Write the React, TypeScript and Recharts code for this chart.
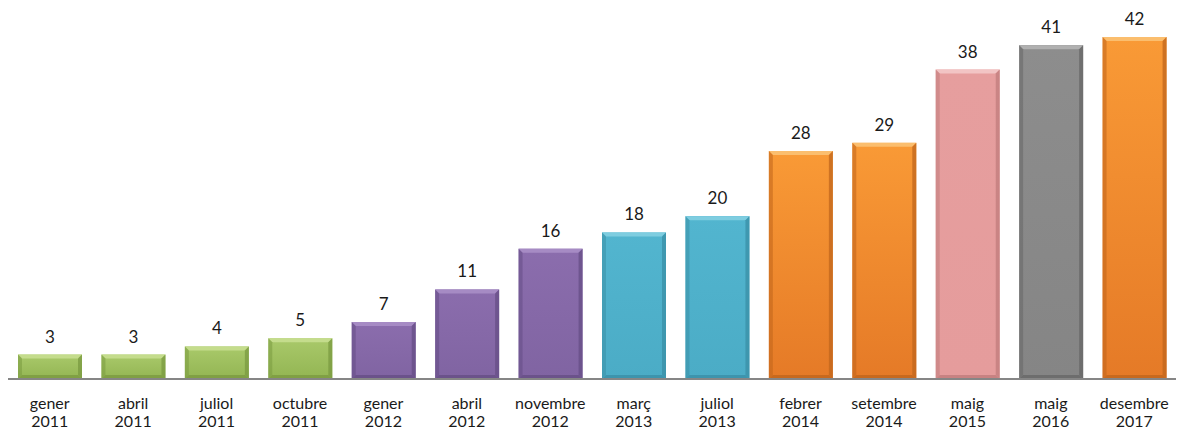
import React from 'react';
import { BarChart, Bar, XAxis, YAxis, Cell, LabelList } from 'recharts';

const months = ['gener', 'abril', 'juliol', 'octubre', 'gener', 'abril', 'novembre', 'març', 'juliol', 'febrer', 'setembre', 'maig', 'maig', 'desembre'];
const years = ['2011', '2011', '2011', '2011', '2012', '2012', '2012', '2013', '2013', '2014', '2014', '2015', '2016', '2017'];
const values = [3, 3, 4, 5, 7, 11, 16, 18, 20, 28, 29, 38, 41, 42];
const colorKeys = ['green', 'green', 'green', 'green', 'purple', 'purple', 'purple', 'cyan', 'cyan', 'orange', 'orange', 'pink', 'gray', 'orange'];

const palette: Record<string, { top: string; bottom: string; light: string; dark: string }> = {
  green: { top: '#A9C96A', bottom: '#93B553', light: '#C4DC8C', dark: '#7A9A40' },
  purple: { top: '#8B6DAD', bottom: '#8064A2', light: '#A68BC4', dark: '#654D85' },
  cyan: { top: '#52B5CF', bottom: '#4BACC6', light: '#7ECDE0', dark: '#3A8FA6' },
  orange: { top: '#F99A36', bottom: '#E57A27', light: '#FBBE6E', dark: '#C0651C' },
  pink: { top: '#E69E9E', bottom: '#E59C9C', light: '#F2C4C4', dark: '#C07C7C' },
  gray: { top: '#8D8D8D', bottom: '#858585', light: '#B0B0B0', dark: '#666666' },
};

const data = months.map((m, i) => ({ name: m + ' ' + years[i], month: m, year: years[i], value: values[i], key: colorKeys[i] }));

const FONT = "Lato, 'Open Sans', sans-serif";

const BevelBar = (props: any) => {
  const { x, y, width, height, index } = props;
  if (height <= 0) return null;
  const c = palette[data[index].key];
  const b = 4;
  const id = 'g-' + data[index].key;
  return (
    <g>
      <rect x={x} y={y} width={width} height={height} fill={`url(#${id})`} />
      <polygon points={`${x},${y} ${x + width},${y} ${x + width - b},${y + b} ${x + b},${y + b}`} fill={c.light} />
      <polygon points={`${x},${y} ${x + b},${y + b} ${x + b},${y + height - b} ${x},${y + height}`} fill={c.dark} opacity={0.55} />
      <polygon points={`${x + width},${y} ${x + width - b},${y + b} ${x + width - b},${y + height - b} ${x + width},${y + height}`} fill={c.dark} opacity={0.75} />
      <polygon points={`${x},${y + height} ${x + b},${y + height - b} ${x + width - b},${y + height - b} ${x + width},${y + height}`} fill={c.dark} opacity={0.8} />
    </g>
  );
};

const Tick = (props: any) => {
  const { x, y, payload } = props;
  const d = data[payload.index];
  return (
    <g>
      <text x={x} y={y + 22} textAnchor="middle" fontSize={16} fill="#1a1a1a" fontFamily={FONT}>{d.month}</text>
      <text x={x} y={y + 40} textAnchor="middle" fontSize={16} fill="#1a1a1a" fontFamily={FONT}>{d.year}</text>
    </g>
  );
};

export default function App() {
  return (
    <div style={{ position: 'absolute', left: 0, top: 0 }}>
      <BarChart width={1179} height={433} data={data} margin={{ top: 37, right: 3, bottom: 0, left: 8 }} barSize={64}>
        <defs>
          {Object.keys(palette).map((k) => (
            <linearGradient key={k} id={'g-' + k} x1="0" y1="0" x2="0" y2="1">
              <stop offset="0%" stopColor={palette[k].top} />
              <stop offset="100%" stopColor={palette[k].bottom} />
            </linearGradient>
          ))}
        </defs>
        <XAxis dataKey="name" interval={0} tickLine={false} axisLine={{ stroke: '#868686', strokeWidth: 2 }} height={54} tick={<Tick />} />
        <YAxis hide domain={[0, 42]} />
        <Bar dataKey="value" isAnimationActive={false} shape={<BevelBar />}>
          {data.map((d, i) => (
            <Cell key={i} fill={palette[d.key].bottom} />
          ))}
          <LabelList dataKey="value" position="top" offset={12} fontSize={17} fill="#1a1a1a" fontFamily={FONT} />
        </Bar>
      </BarChart>
    </div>
  );
}
